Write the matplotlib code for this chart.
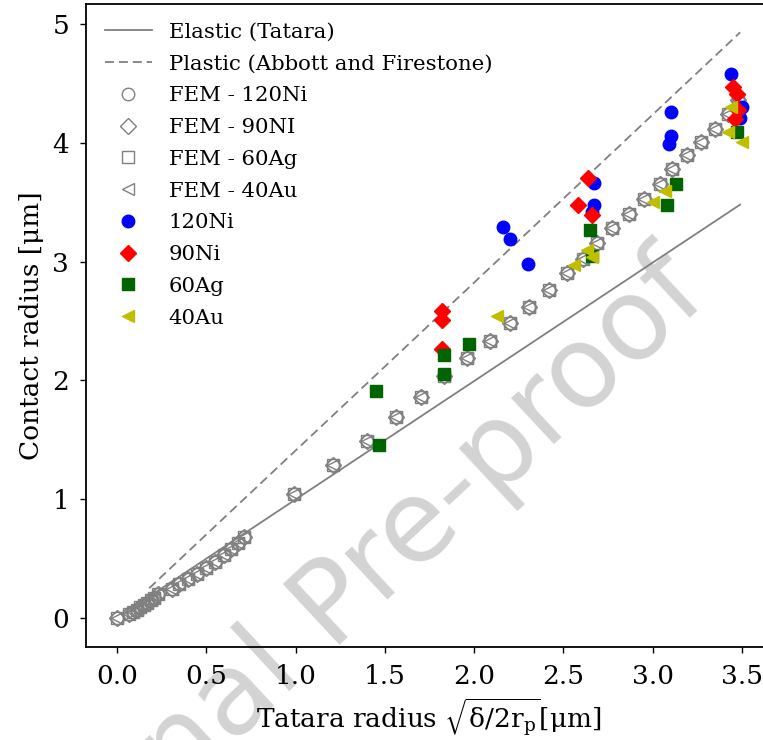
import matplotlib
matplotlib.use('Agg')
import matplotlib.pyplot as plt

plt.rcParams['font.family'] = 'DejaVu Serif'
plt.rcParams['mathtext.fontset'] = 'dejavuserif'
plt.rcParams['lines.scale_dashes'] = False

# analytical lines (end points)
elastic_x = [0.18, 3.49]
elastic_y = [0.18, 3.48]
plastic_x = [0.18, 3.49]
plastic_y = [0.25, 4.93]

# FEM results (the four simulations overlap almost exactly)
fem_x = [0.0, 0.07, 0.09, 0.11, 0.13, 0.15, 0.17, 0.19, 0.21, 0.23, 0.31, 0.35,
         0.40, 0.45, 0.50, 0.55, 0.60, 0.64, 0.68, 0.71, 0.99, 1.21, 1.40, 1.56,
         1.70, 1.83, 1.96, 2.09, 2.20, 2.31, 2.42, 2.52, 2.61, 2.69, 2.77, 2.87,
         2.95, 3.04, 3.11, 3.19, 3.27, 3.35, 3.42, 3.48]
fem_y = [0.0, 0.03, 0.05, 0.07, 0.09, 0.11, 0.13, 0.15, 0.17, 0.20, 0.24, 0.29,
         0.33, 0.37, 0.42, 0.47, 0.53, 0.58, 0.63, 0.68, 1.04, 1.29, 1.49, 1.69,
         1.86, 2.04, 2.19, 2.33, 2.48, 2.62, 2.76, 2.90, 3.02, 3.16, 3.28, 3.40,
         3.53, 3.65, 3.78, 3.90, 4.01, 4.12, 4.24, 4.36]

# experiments
ni120_x = [2.16, 2.20, 2.30, 2.67, 2.67, 2.66, 3.10, 3.10, 3.09, 3.44, 3.50, 3.49]
ni120_y = [3.29, 3.19, 2.98, 3.66, 3.48, 3.42, 4.26, 4.06, 3.99, 4.58, 4.30, 4.21]
ni90_x = [1.82, 1.82, 1.82, 2.64, 2.58, 2.66, 3.45, 3.47, 3.48, 3.46]
ni90_y = [2.58, 2.51, 2.26, 3.70, 3.48, 3.39, 4.47, 4.41, 4.28, 4.20]
ag60_x = [1.45, 1.47, 1.83, 1.83, 1.97, 2.65, 2.66, 3.13, 3.08, 3.47]
ag60_y = [1.91, 1.46, 2.21, 2.05, 2.31, 3.27, 3.05, 3.65, 3.48, 4.09]
au40_x = [2.13, 2.56, 2.63, 2.66, 3.00, 3.07, 3.44, 3.42, 3.50]
au40_y = [2.54, 2.97, 3.10, 3.04, 3.50, 3.59, 4.30, 4.09, 4.01]

W, H = 763, 740
fig = plt.figure(figsize=(W / 100, H / 100), dpi=100)
ax = fig.add_axes([85.75 / W, (H - 647.2) / H, 685.7 / W, 643.4 / H])
ax.set_facecolor('none')

grey = '#808080'
ax.plot(elastic_x, elastic_y, color=grey, lw=1.3, label='Elastic (Tatara)')
ax.plot(plastic_x, plastic_y, color=grey, lw=1.3, linestyle='--', dashes=(6.5, 3.5),
        label='Plastic (Abbott and Firestone)')

fem_style = dict(linestyle='none', mfc='none', mec=grey, mew=1.0, ms=9)
ax.plot(fem_x, fem_y, marker='o', label='FEM - 120Ni', **fem_style)
ax.plot(fem_x, fem_y, marker='D', label='FEM - 90NI', **dict(fem_style, ms=8))
ax.plot(fem_x, fem_y, marker='s', label='FEM - 60Ag', **fem_style)
ax.plot(fem_x, fem_y, marker='<', label='FEM - 40Au', **fem_style)

ax.plot(ni120_x, ni120_y, 'o', color='b', ms=9, label='120Ni')
ax.plot(ni90_x, ni90_y, 'D', color='r', ms=8, label='90Ni')
ax.plot(ag60_x, ag60_y, 's', color='darkgreen', ms=8, label='60Ag')
ax.plot(au40_x, au40_y, '<', color='y', ms=9, label='40Au')

ax.set_xlim(-0.175, 3.665)
ax.set_ylim(-0.246, 5.17)
ax.set_xticks([0.0, 0.5, 1.0, 1.5, 2.0, 2.5, 3.0, 3.5])
ax.set_xticklabels(['0.0', '0.5', '1.0', '1.5', '2.0', '2.5', '3.0', '3.5'])
ax.set_yticks([0, 1, 2, 3, 4, 5])
ax.tick_params(labelsize=19, width=1.0, length=4, pad=8)
for s in ax.spines.values():
    s.set_linewidth(1.3)

ax.set_xlabel(r'Tatara radius $\sqrt{\mathrm{δ/2r_p}}$[μm]', fontsize=19, labelpad=6)
ax.set_ylabel('Contact radius [μm]', fontsize=19, labelpad=6)

ax.legend(loc='upper left', frameon=False, fontsize=15.3, numpoints=1,
          labelspacing=0.6, handlelength=2.2, borderaxespad=0.5)

# watermark of the source pdf
fig.text(345 / W, 1 - 602 / H, 'Journal Pre-proof', fontsize=82, color='#d3d3d3',
         family='DejaVu Sans', rotation=43, rotation_mode='anchor',
         ha='center', va='center', zorder=-1)

fig.savefig('out.png', dpi=100)
